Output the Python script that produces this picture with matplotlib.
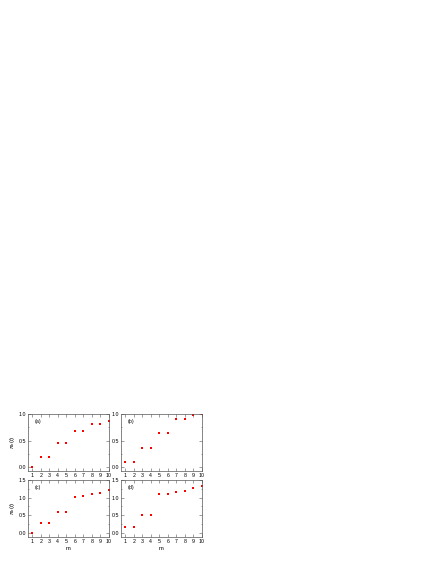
import matplotlib
matplotlib.use('Agg')
import matplotlib.pyplot as plt
from matplotlib.ticker import MultipleLocator

plt.rcParams['font.family'] = ['Liberation Sans', 'DejaVu Sans']
plt.rcParams['mathtext.fontset'] = 'custom'
plt.rcParams['mathtext.rm'] = 'Liberation Sans'
plt.rcParams['mathtext.it'] = 'Liberation Sans:italic'

m = [1, 2, 3, 4, 5, 6, 7, 8, 9, 10]
pi_a = [0.0, 0.2, 0.2, 0.45, 0.45, 0.69, 0.69, 0.81, 0.82, 0.87]
pi_b = [0.10, 0.10, 0.37, 0.37, 0.65, 0.65, 0.91, 0.91, 0.98, 0.995]
pi_c = [0.0, 0.27, 0.27, 0.59, 0.59, 1.02, 1.04, 1.10, 1.13, 1.21]
pi_d = [0.17, 0.17, 0.51, 0.51, 1.10, 1.10, 1.17, 1.20, 1.28, 1.34]
labels = ['(a)', '(b)', '(c)', '(d)']

fig = plt.figure(figsize=(4.36, 5.64), dpi=100)

boxes = [
    [28/436, 93/564, 81/436, 57/564],
    [121/436, 93/564, 81/436, 57/564],
    [28/436, 27/564, 81/436, 57/564],
    [121/436, 27/564, 81/436, 57/564],
]
series = [pi_a, pi_b, pi_c, pi_d]
ylims = [(-0.07, 1.0), (-0.07, 1.0), (-0.12, 1.5), (-0.12, 1.5)]

for i in range(4):
    ax = fig.add_axes(boxes[i])
    ax.plot(m, series[i], 's', color='red', markersize=2.1, markeredgewidth=0,
            snap=False)
    ax.set_xlim(0.5, 10)
    ax.set_ylim(*ylims[i])
    ax.xaxis.set_major_locator(MultipleLocator(1))
    ax.yaxis.set_major_locator(MultipleLocator(0.5))
    ax.yaxis.set_minor_locator(MultipleLocator(0.25))
    ax.tick_params(which='both', direction='in', top=True, right=True,
                   labelsize=3.8, pad=1.2, width=0.4, color='#555555')
    ax.tick_params(which='major', length=2)
    ax.tick_params(which='minor', length=1)
    for s in ax.spines.values():
        s.set_linewidth(0.5)
        s.set_color('#555555')
    ax.text(0.08, 0.85, labels[i], transform=ax.transAxes, fontsize=3.8)
    if i % 2 == 0:
        ax.set_ylabel(r'$\pi_n(t)$', fontsize=4.2, labelpad=1)
    if i >= 2:
        ax.set_xlabel('m', fontsize=4.2, labelpad=2)

fig.savefig('out.png', dpi=100)
